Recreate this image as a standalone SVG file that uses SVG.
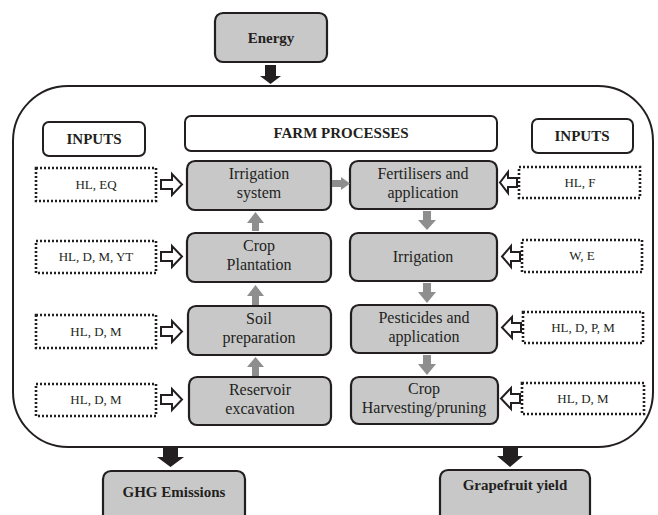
<svg xmlns="http://www.w3.org/2000/svg" width="658" height="515" viewBox="0 0 658 515">
<defs>
<style>
.proc{fill:#c8c8c9;stroke:#231f20;stroke-width:2.2}
.hdr{fill:#fff;stroke:#231f20;stroke-width:2}
.dot{fill:#fff;stroke:#231f20;stroke-width:2.6;stroke-dasharray:2 2}
.ga{fill:#8e8e8e}
.ba{fill:#231f20}
.ha{fill:#fff;stroke:#231f20;stroke-width:2;stroke-linejoin:miter}
</style>
</defs>
<rect x="0" y="0" width="658" height="515" fill="#fff"/>
<g id="container"><rect x="13" y="86" width="640" height="361" rx="55" ry="55" fill="none" stroke="#231f20" stroke-width="2"/></g>
<g id="energy"><rect class="proc" x="215" y="13" width="112" height="49" rx="8"/><text font-family="Liberation Serif, serif" font-size="15" font-weight="bold" fill="#231f20" text-anchor="middle" x="271" y="43">Energy</text></g>
<g id="inputs-left"><rect class="hdr" x="43" y="122" width="102" height="34" rx="6"/><text font-family="Liberation Serif, serif" font-size="15" font-weight="bold" fill="#231f20" text-anchor="middle" x="94" y="144">INPUTS</text></g>
<g id="farm-processes"><rect class="hdr" x="185" y="116" width="312" height="35" rx="6"/><text font-family="Liberation Serif, serif" font-size="15" font-weight="bold" fill="#231f20" text-anchor="middle" x="341" y="138">FARM PROCESSES</text></g>
<g id="inputs-right"><rect class="hdr" x="532" y="119" width="101" height="34" rx="6"/><text font-family="Liberation Serif, serif" font-size="15" font-weight="bold" fill="#231f20" text-anchor="middle" x="582" y="141">INPUTS</text></g>
<g id="irrigation-system" font-family="Liberation Serif, serif" font-size="16" fill="#231f20" text-anchor="middle"><rect class="proc" x="187" y="161" width="144" height="49" rx="8"/><text font-family="Liberation Serif, serif" x="259" y="179">Irrigation</text><text font-family="Liberation Serif, serif" x="259" y="198">system</text></g>
<g id="crop-plantation" font-size="16" fill="#231f20" text-anchor="middle"><rect class="proc" x="187" y="233" width="144" height="49" rx="8"/><text font-family="Liberation Serif, serif" x="259" y="251">Crop</text><text font-family="Liberation Serif, serif" x="259" y="270">Plantation</text></g>
<g id="soil-preparation" font-size="16" fill="#231f20" text-anchor="middle"><rect class="proc" x="188" y="306" width="143" height="49" rx="8"/><text font-family="Liberation Serif, serif" x="259" y="324">Soil</text><text font-family="Liberation Serif, serif" x="259" y="343">preparation</text></g>
<g id="reservoir-excavation" font-size="16" fill="#231f20" text-anchor="middle"><rect class="proc" x="189" y="377" width="142" height="48" rx="8"/><text font-family="Liberation Serif, serif" x="260" y="395">Reservoir</text><text font-family="Liberation Serif, serif" x="260" y="414">excavation</text></g>
<g id="fertilisers" font-size="16" fill="#231f20" text-anchor="middle"><rect class="proc" x="350" y="161" width="147" height="48" rx="8"/><text font-family="Liberation Serif, serif" x="423" y="179">Fertilisers and</text><text font-family="Liberation Serif, serif" x="423" y="198">application</text></g>
<g id="irrigation" font-size="16" fill="#231f20" text-anchor="middle"><rect class="proc" x="350" y="233" width="147" height="48" rx="8"/><text font-family="Liberation Serif, serif" x="423" y="262">Irrigation</text></g>
<g id="pesticides" font-size="16" fill="#231f20" text-anchor="middle"><rect class="proc" x="351" y="305" width="146" height="48" rx="8"/><text font-family="Liberation Serif, serif" x="424" y="323">Pesticides and</text><text font-family="Liberation Serif, serif" x="424" y="342">application</text></g>
<g id="crop-harvesting" font-size="16" fill="#231f20" text-anchor="middle"><rect class="proc" x="351" y="377" width="147" height="47" rx="8"/><text font-family="Liberation Serif, serif" x="424" y="394">Crop</text><text font-family="Liberation Serif, serif" x="424" y="413">Harvesting/pruning</text></g>
<g id="in-l1" font-size="13" fill="#231f20" text-anchor="middle"><rect class="dot" x="36" y="168" width="120" height="33"/><text font-family="Liberation Serif, serif" x="96" y="189">HL, EQ</text></g>
<g id="in-l2" font-size="13" fill="#231f20" text-anchor="middle"><rect class="dot" x="36" y="241" width="120" height="32"/><text font-family="Liberation Serif, serif" x="96" y="261">HL, D, M, YT</text></g>
<g id="in-l3" font-size="13" fill="#231f20" text-anchor="middle"><rect class="dot" x="36" y="315" width="120" height="33"/><text font-family="Liberation Serif, serif" x="96" y="336">HL, D, M</text></g>
<g id="in-l4" font-size="13" fill="#231f20" text-anchor="middle"><rect class="dot" x="36" y="384" width="120" height="32"/><text font-family="Liberation Serif, serif" x="96" y="404">HL, D, M</text></g>
<g id="in-r1" font-size="13" fill="#231f20" text-anchor="middle"><rect class="dot" x="519" y="167" width="121" height="31"/><text font-family="Liberation Serif, serif" x="580" y="187">HL, F</text></g>
<g id="in-r2" font-size="13" fill="#231f20" text-anchor="middle"><rect class="dot" x="522" y="240" width="120" height="32"/><text font-family="Liberation Serif, serif" x="582" y="260">W, E</text></g>
<g id="in-r3" font-size="13" fill="#231f20" text-anchor="middle"><rect class="dot" x="523" y="312" width="120" height="31"/><text font-family="Liberation Serif, serif" x="583" y="332">HL, D, P, M</text></g>
<g id="in-r4" font-size="13" fill="#231f20" text-anchor="middle"><rect class="dot" x="522" y="383" width="122" height="31"/><text font-family="Liberation Serif, serif" x="583" y="403">HL, D, M</text></g>
<g id="out-ghg"><rect class="proc" x="103" y="471" width="142" height="60" rx="8"/><text font-family="Liberation Serif, serif" font-size="15" font-weight="bold" fill="#231f20" text-anchor="middle" x="174" y="497">GHG Emissions</text></g>
<g id="out-yield"><rect class="proc" x="440" y="470" width="150" height="60" rx="8"/><text font-family="Liberation Serif, serif" font-size="15" font-weight="bold" fill="#231f20" text-anchor="middle" x="515" y="490">Grapefruit yield</text></g>
<g id="connectors">
<polygon class="ba" points="265,65 276,65 276,76 281,76 270.5,84 260,76 265,76"/>
<polygon class="ba" points="163,448 178,448 178,457 184,457 170.5,467 157,457 163,457"/>
<polygon class="ba" points="503,447 518,447 518,456 523,456 510,467 497,456 503,456"/>
<polygon class="ha" points="161,180 172,180 172,174 182,184.5 172,195 172,189 161,189"/>
<polygon class="ha" points="161,252 172,252 172,246 182,256.5 172,267 172,261 161,261"/>
<polygon class="ha" points="161,327 172,327 172,321 182,331.5 172,342 172,336 161,336"/>
<polygon class="ha" points="161,395 172,395 172,389 182,399.5 172,410 172,404 161,404"/>
<polygon class="ha" points="517,178 508,178 508,172 500,182.5 508,193 508,187 517,187"/>
<polygon class="ha" points="520,252 511,252 511,246 502,256.5 511,267 511,261 520,261"/>
<polygon class="ha" points="521,323 512,323 512,317 502,327.5 512,338 512,332 521,332"/>
<polygon class="ha" points="520,394 511,394 511,388 501,398.5 511,409 511,403 520,403"/>
<polygon class="ga" points="332,180 341,180 341,177 350,183.5 341,190 341,187 332,187"/>
<polygon class="ga" points="252,231 259,231 259,223 264,223 255.5,212 247,223 252,223"/>
<polygon class="ga" points="252,305 259,305 259,296 264,296 255.5,285 247,296 252,296"/>
<polygon class="ga" points="252,376 259,376 259,367 264,367 255.5,357 247,367 252,367"/>
<polygon class="ga" points="423,211 431,211 431,220 436,220 427,230 418,220 423,220"/>
<polygon class="ga" points="423,283 431,283 431,292 436,292 427,303 418,292 423,292"/>
<polygon class="ga" points="423,355 431,355 431,364 436,364 427,375 418,364 423,364"/>
</g>
</svg>
